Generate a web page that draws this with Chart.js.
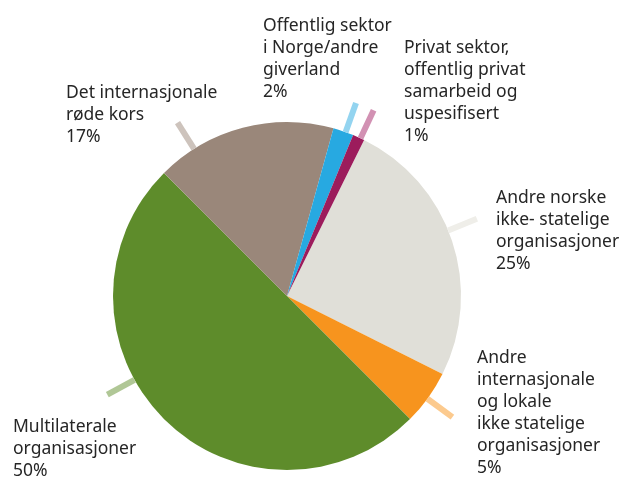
<!DOCTYPE html>
<html lang="no">
<head>
  <meta charset="UTF-8" />
  <title>Fordeling etter partner</title>
  <script src="https://cdn.jsdelivr.net/npm/chart.js"></script>
  <style>
    html, body { margin: 0; padding: 0; background: #fff; }
    #wrap { width: 619px; height: 477px; position: relative; }
  </style>
</head>
<body>
<div id="wrap"><canvas id="pieChart"></canvas></div>

<script>
// data, clockwise from the first slice after 12 o'clock
const categories = [
  ["Andre norske", "ikke- statelige", "organisasjoner"],
  ["Andre", "internasjonale", "og lokale", "ikke statelige", "organisasjoner"],
  ["Multilaterale", "organisasjoner"],
  ["Det internasjonale", "røde kors"],
  ["Offentlig sektor", "i Norge/andre", "giverland"],
  ["Privat sektor,", "offentlig privat", "samarbeid og", "uspesifisert"]
];
const shares = [25.1, 5.1, 50.0, 16.8, 1.9, 1.1];
const shareLabels = ["25%", "5%", "50%", "17%", "2%", "1%"];

const sliceColors = ["#e0dfd8", "#f7941e", "#5e8c2b", "#9a877a", "#27a9e1", "#9c1c5c"];
const tickColors  = ["#efeee9", "#fcca8e", "#b0c796", "#cdc3bc", "#93d4f0", "#d291b3"];

// where the tick sits inside each slice (0 = start, 1 = end) and label offsets from the pie centre
const tickFrac = [0.46, 0.52, 0.59, 0.21, 0.61, 0.67];
const labelOffset = [[209, -98], [190, 62], [-274, 131], [-221, -203], [-24, -270], [117, -248]];

const lineH = 22;

const labelPlugin = {
  id: "pieLabels",
  afterDatasetsDraw(chart) {
    const ctx = chart.ctx;
    const arcs = chart.getDatasetMeta(0).data;
    ctx.save();
    arcs.forEach((arc, i) => {
      const { x, y, outerRadius, startAngle, endAngle } = arc.getProps(["x", "y", "outerRadius", "startAngle", "endAngle"], true);
      const a = startAngle + (endAngle - startAngle) * tickFrac[i];
      const r0 = outerRadius, r1 = outerRadius + 31;
      ctx.strokeStyle = tickColors[i];
      ctx.lineWidth = 6;
      ctx.lineCap = "butt";
      ctx.beginPath();
      ctx.moveTo(x + Math.cos(a) * r0, y + Math.sin(a) * r0);
      ctx.lineTo(x + Math.cos(a) * r1, y + Math.sin(a) * r1);
      ctx.stroke();

      ctx.fillStyle = "#262626";
      ctx.font = "17.5px 'Noto Sans', sans-serif";
      ctx.textBaseline = "middle";
      ctx.textAlign = "left";
      const lines = categories[i].concat([shareLabels[i]]);
      const lx = x + labelOffset[i][0], ly = y + labelOffset[i][1];
      lines.forEach((t, k) => ctx.fillText(t, lx, ly + k * lineH));
    });
    ctx.restore();
  }
};

new Chart(document.getElementById("pieChart"), {
  type: "pie",
  data: {
    labels: categories.map(c => c.join(" ")),
    datasets: [{
      data: shares,
      backgroundColor: sliceColors,
      borderWidth: 0
    }]
  },
  options: {
    responsive: true,
    maintainAspectRatio: false,
    animation: false,
    rotation: 26.3,
    layout: { padding: { left: 113, right: 158, top: 122, bottom: 7 } },
    plugins: {
      legend: { display: false },
      tooltip: { enabled: false }
    }
  },
  plugins: [labelPlugin]
});
</script>
</body>
</html>
